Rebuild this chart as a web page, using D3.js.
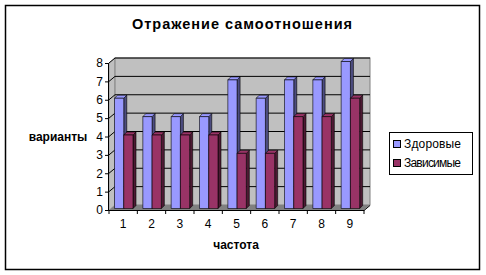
<!DOCTYPE html>
<html>
<head>
<meta charset="utf-8">
<script src="https://cdn.jsdelivr.net/npm/d3@7"></script>
<style>
  body { margin: 0; background: #fff; }
  svg { display: block; font-family: "Liberation Sans", Arial, sans-serif; }
</style>
</head>
<body>
<script>
// данные с картинки
const categories = ["1", "2", "3", "4", "5", "6", "7", "8", "9"];
const seriesNames = ["Здоровые", "Зависимые"];
const zdorovye = [6, 5, 5, 5, 7, 6, 7, 7, 8];
const zavisimye = [4, 4, 4, 4, 3, 3, 5, 5, 6];
const yTicks = [0, 1, 2, 3, 4, 5, 6, 7, 8];

const colors = { "Здоровые": ["#9999ff", "#4d4d80"], "Зависимые": ["#993366", "#4d1a33"] };

const W = 486, H = 275;
const svg = d3.select("body").append("svg").attr("width", W).attr("height", H);

// рамка вокруг всей диаграммы
svg.append("rect").attr("x", 5.5).attr("y", 5.5).attr("width", 474).attr("height", 264)
  .attr("fill", "#fff").attr("stroke", "#000").attr("stroke-width", 1.5);

const dx = 6, dy = -5; // глубина стенок
const x = d3.scaleBand().domain(categories).range([109, 364]);
const y = d3.scaleLinear().domain([0, 8]).range([210, 63]);

const g = svg.append("g");

// левая стенка
g.append("path")
  .attr("d", `M${x.range()[0]},${y(0)} L${x.range()[0]},${y(8)} l${dx},${dy} L${x.range()[0] + dx},${y(0) + dy} Z`)
  .attr("fill", "#c0c0c0").attr("stroke", "#808080").attr("stroke-width", 0.5);
// задняя стенка
g.append("rect")
  .attr("x", x.range()[0] + dx).attr("y", y(8) + dy)
  .attr("width", x.range()[1] - x.range()[0]).attr("height", y(0) - y(8))
  .attr("fill", "#c0c0c0").attr("stroke", "#808080").attr("stroke-width", 1);
// пол
g.append("path")
  .attr("d", `M${x.range()[0]},${y(0)} L${x.range()[1]},${y(0)} l${dx},${dy} L${x.range()[0] + dx},${y(0) + dy} Z`)
  .attr("fill", "#808080");

// линии сетки
yTicks.filter(d => d > 0).forEach(function(t) {
  g.append("path")
    .attr("d", `M${x.range()[0]},${y(t)} l${dx},${dy} L${x.range()[1] + dx},${y(t) + dy}`)
    .attr("fill", "none").attr("stroke", "#000").attr("stroke-width", 1);
});

// столбцы
const sub = d3.scaleBand().domain(seriesNames).range([0, 18.5]);
const bdx = 3, bdy = -3;
categories.forEach(function(c, i) {
  [zdorovye[i], zavisimye[i]].forEach(function(v, j) {
    const s = seriesNames[j];
    const x0 = x(c) + 5.5 + sub(s), w = sub.bandwidth();
    const yt = y(v) - 1.5, yb = y(0) - 1.5;
    const bar = g.append("g").attr("stroke", "#000").attr("stroke-width", 0.6).attr("stroke-linejoin", "round");
    bar.append("path")
      .attr("d", `M${x0 + w},${yb} L${x0 + w},${yt} l${bdx},${bdy} L${x0 + w + bdx},${yb + bdy} Z`)
      .attr("fill", colors[s][1]);
    bar.append("path")
      .attr("d", `M${x0},${yt} l${bdx},${bdy} l${w},0 l${-bdx},${-bdy} Z`)
      .attr("fill", colors[s][0]);
    bar.append("rect").attr("x", x0).attr("y", yt).attr("width", w).attr("height", yb - yt)
      .attr("fill", colors[s][0]);
  });
});

// ось Y
const yAxis = svg.append("g").attr("transform", `translate(${x.range()[0]},0)`)
  .call(d3.axisLeft(y).tickValues(yTicks).tickSize(4).tickPadding(2).tickFormat(d3.format("d")));
yAxis.select(".domain").attr("stroke", "#000").attr("d", `M-0.5,${y(0)}V${y(8)}`);
yAxis.selectAll("text").attr("font-size", 12).attr("fill", "#000").attr("font-family", "Liberation Sans, Arial");

// ось X
const xAxis = svg.append("g").attr("transform", `translate(0,${y(0)})`)
  .call(d3.axisBottom(x).tickSize(0).tickPadding(9));
xAxis.select(".domain").attr("stroke", "#000")
  .attr("d", `M${x.range()[0]},0.5H${x.range()[1]}l${dx},${dy}`);
xAxis.selectAll("text").attr("font-size", 12).attr("fill", "#000").attr("font-family", "Liberation Sans, Arial");
xAxis.selectAll(".sep").data(d3.range(categories.length + 1)).enter().append("line")
  .attr("x1", d => x.range()[0] + d * x.step()).attr("x2", d => x.range()[0] + d * x.step())
  .attr("y1", 0).attr("y2", 4).attr("stroke", "#000");

// заголовок и подписи осей
svg.append("text").attr("x", 242).attr("y", 29).attr("text-anchor", "middle")
  .attr("font-size", 14.5).attr("font-weight", "bold")
  .attr("textLength", 220).attr("lengthAdjust", "spacing")
  .text("Отражение самоотношения");
svg.append("text").attr("x", 58).attr("y", 141).attr("text-anchor", "middle")
  .attr("font-size", 12).attr("font-weight", "bold").text("варианты");
svg.append("text").attr("x", 236).attr("y", 249).attr("text-anchor", "middle")
  .attr("font-size", 12).attr("font-weight", "bold").text("частота");

// легенда
const legend = svg.append("g").attr("transform", "translate(389,132)");
legend.append("rect").attr("x", 0.5).attr("y", 0.5).attr("width", 83).attr("height", 42)
  .attr("fill", "#fff").attr("stroke", "#000");
seriesNames.forEach(function(s, i) {
  const row = legend.append("g").attr("transform", `translate(4,${15 + i * 19})`);
  row.append("rect").attr("x", 0.5).attr("y", -6.5).attr("width", 7).attr("height", 7)
    .attr("fill", colors[s][0]).attr("stroke", "#000");
  row.append("text").attr("x", 11).attr("y", 1).attr("font-size", 12)
    .attr("textLength", 57).attr("lengthAdjust", "spacing").text(s);
});
</script>
</body>
</html>
